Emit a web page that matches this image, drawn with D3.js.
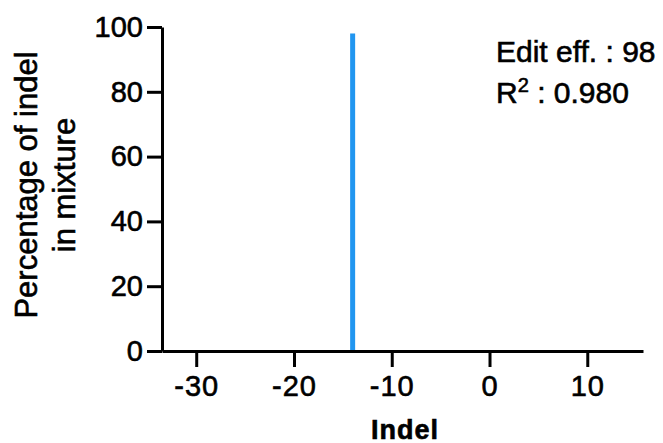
<!DOCTYPE html>
<html>
<head>
<meta charset="utf-8">
<script src="https://cdn.jsdelivr.net/npm/d3@7"></script>
<style>
  html, body { margin: 0; padding: 0; background: #fff; }
  svg { display: block; }
  text { font-family: "Liberation Sans", Arial, sans-serif; fill: #000; stroke: #000; stroke-width: 0.6px; }
</style>
</head>
<body>
<div id="chart"></div>
<script>
// chart values
const indels = [-14];
const percentages = [98];
const xTicks = [-30, -20, -10, 0, 10];
const yTicks = [0, 20, 40, 60, 80, 100];
const annotations = ['Edit eff. : 98', '0.980'];

const width = 663;
const height = 443;
const margin = { top: 27, right: 20, bottom: 92, left: 162 };
const innerWidth = width - margin.left - margin.right;
const innerHeight = height - margin.top - margin.bottom;

const svg = d3.select('#chart')
  .append('svg')
  .attr('width', width)
  .attr('height', height);

const g = svg.append('g')
  .attr('transform', `translate(${margin.left}, ${margin.top})`);

const x = d3.scaleLinear()
  .domain([-33.5, 15.7])
  .range([0, innerWidth]);

const y = d3.scaleLinear()
  .domain([0, 100])
  .range([innerHeight, 0]);

// bars
g.selectAll('.bar')
  .data(indels.map((d, i) => ({ indel: d, value: percentages[i] })))
  .join('rect')
  .attr('class', 'bar')
  .attr('x', d => x(d.indel) - 2.5)
  .attr('width', 5)
  .attr('y', d => y(d.value))
  .attr('height', d => innerHeight - y(d.value))
  .attr('fill', '#2196f0');

// axes
const xAxis = g.append('g')
  .attr('transform', `translate(0, ${innerHeight})`)
  .call(d3.axisBottom(x).tickValues(xTicks).tickSize(16).tickPadding(8).tickSizeOuter(0));

const yAxis = g.append('g')
  .call(d3.axisLeft(y).tickValues(yTicks).tickSize(15).tickPadding(4).tickSizeOuter(0));

[xAxis, yAxis].forEach(ax => {
  ax.select('.domain').attr('stroke', '#000').attr('stroke-width', 3);
  ax.selectAll('.tick line').attr('stroke', '#000').attr('stroke-width', 3);
  ax.selectAll('.tick text')
    .attr('font-family', '"Liberation Sans", Arial, sans-serif')
    .attr('font-size', 29)
    .attr('fill', '#000');
});

// hyphen minus like the reference, a bit looser spacing
xAxis.selectAll('.tick text')
  .text(d => d < 0 ? '-' + Math.abs(d) : d)
  .attr('letter-spacing', 1);

// axis titles
svg.append('text')
  .attr('x', 405)
  .attr('y', 439)
  .attr('text-anchor', 'middle')
  .attr('font-size', 27)
  .attr('font-weight', 'bold')
  .attr('letter-spacing', 1)
  .text('Indel');

const yTitle = svg.append('text')
  .attr('transform', 'translate(37, 185) rotate(-90)')
  .attr('text-anchor', 'middle')
  .attr('font-size', 31);
yTitle.append('tspan').attr('x', 0).attr('dy', 0).text('Percentage of indel');
yTitle.append('tspan').attr('x', 0).attr('dy', 38).text('in mixture');

// annotations
svg.append('text')
  .attr('x', 496)
  .attr('y', 62)
  .attr('font-size', 30)
  .text(annotations[0]);

const r2 = svg.append('text')
  .attr('x', 496)
  .attr('y', 103)
  .attr('font-size', 30);
r2.append('tspan').text('R');
r2.append('tspan').attr('dy', -11).attr('font-size', 20).text('2');
r2.append('tspan').attr('dy', 11).text(' : ' + annotations[1]);
</script>
</body>
</html>
